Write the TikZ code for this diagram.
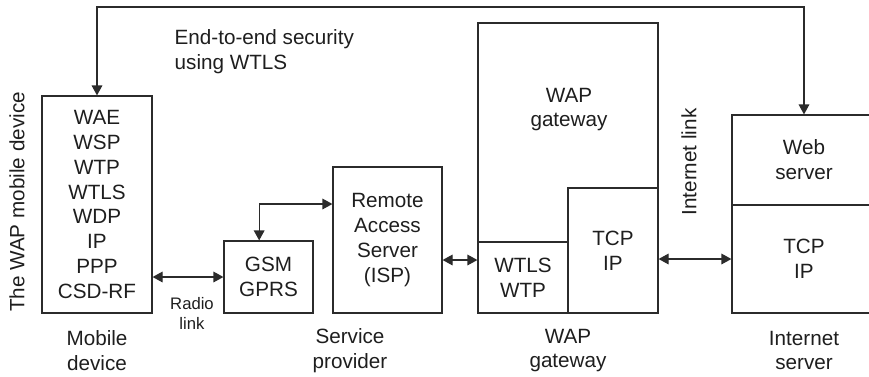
\documentclass[tikz,border=0pt]{standalone}
\usepackage{fontspec}
\setmainfont{Liberation Sans}
\usetikzlibrary{arrows.meta, calc}
\definecolor{ink}{HTML}{2B2B2B}
\definecolor{txt}{HTML}{1E1E1E}

\begin{document}
\begin{tikzpicture}[x=0.75pt, y=-0.75pt,
  >={Triangle[length=7.5pt, width=8pt]},
  every node/.style={text=txt, font=\fontsize{15.5}{18.6}\selectfont},
  boxsize/.style 2 args={minimum width=#1*0.75pt, minimum height=#2*0.75pt},
  box/.style={draw=ink, line width=0.9pt, inner sep=0pt, align=center},
  link/.style={draw=ink, line width=0.9pt, <->},
  small/.style={font=\fontsize{12.5}{15}\selectfont, align=center}]

\useasboundingbox (0,0) rectangle (869,376);

% ============================================================
% Mobile device
% ============================================================
\node[box, boxsize={110}{217}] (mobile) at (97,204.5)
  {WAE\\WSP\\WTP\\WTLS\\WDP\\IP\\PPP\\CSD-RF};
\node[rotate=90] (mobtitle) at (17,202) {The WAP mobile device};
\node[align=center] (moblabel) at (97,350.5) {Mobile\\device};

% ============================================================
% Service provider
% ============================================================
\node[box, boxsize={89}{72}] (gsm) at (268.5,277) {GSM\\GPRS};
\node[box, boxsize={109}{146}] (ras) at (387.5,240)
  {Remote\\Access\\Server\\(ISP)};
\node[align=center] (splabel) at (350,350.5) {Service\\provider};

% radio link between handset and GSM
\draw[link] (gsm.west -| mobile.east) -- (gsm.west);
\node[small] (radio) at (192,313) {Radio\\link};

% GSM up and across to the access server
\draw[link] ([xshift=-7pt]gsm.north) |- ([yshift=27pt]ras.west);

% ============================================================
% WAP gateway
% ============================================================
\node[box, boxsize={180}{290}] (gw) at (568,168) {};
\node[align=center] (gwtext) at (569,109.5) {WAP\\gateway};
\node[box, boxsize={90}{71}] (wtls) at (523,277.5) {WTLS\\WTP};
\node[box, boxsize={90}{125}] (tcp) at (613,250.5) {TCP\\IP};
\node[align=center] (gwlabel) at (568,350.5) {WAP\\gateway};

\draw[link] ([yshift=-15pt]ras.east) -- ([yshift=-15pt]ras.east -| wtls.west);

% ============================================================
% Internet server (runs off the right edge)
% ============================================================
\node[box, boxsize={144}{90}] (web) at (804,160) {Web\\server};
\node[box, boxsize={144}{108}] (tcpw) at (804,259) {TCP\\IP};
\node[align=center] (islabel) at (804,350.5) {Internet\\server};

% internet link
\draw[link] (tcpw.west -| tcp.east) -- (tcpw.west);
\node[rotate=90] (inetlink) at (689,162) {Internet link};

% ============================================================
% End-to-end WTLS path over the top
% ============================================================
\coordinate (topmid) at (450,7);
\draw[link] (mobile.north) |- (topmid) -| (web.north);
\node[align=left, anchor=west] (e2e) at (170,51.5)
  {End-to-end security\\using WTLS};

\end{tikzpicture}
\end{document}
